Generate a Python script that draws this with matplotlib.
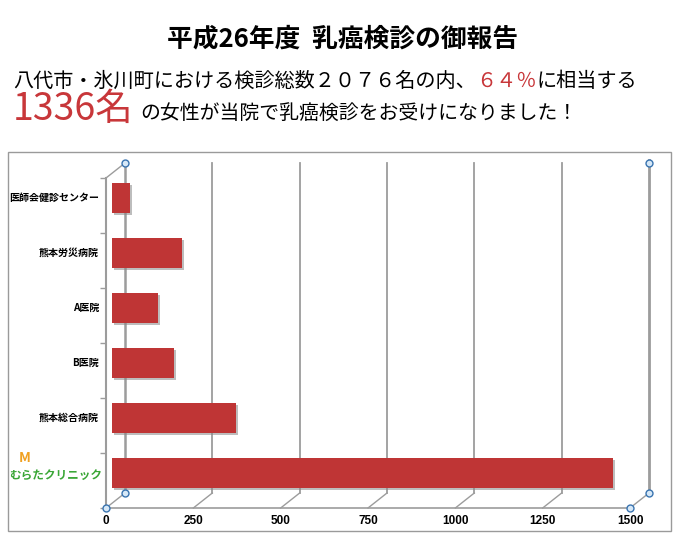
import numpy as np
import matplotlib.pyplot as plt
import matplotlib.transforms as mtransforms
from matplotlib.patches import Rectangle

plt.rcParams['font.family'] = ['Noto Sans CJK JP', 'DejaVu Sans']

categories = ['医師会健診センター', '熊本労災病院', 'A医院', 'B医院', '熊本総合病院', 'むらたクリニック']
values = [52, 200, 132, 177, 355, 1435]
xticks = [0, 250, 500, 750, 1000, 1250, 1500]

title = '平成26年度  乳癌検診の御報告'
line2 = [('八代市・氷川町における検診総数２０７６名の内、', 'black'), ('６４％', '#c8373a'), ('に相当する', 'black')]
line3 = [('1336名', '#c8373a', 27), ('の女性が当院で乳癌検診をお受けになりました！', 'black', 14.3)]

W, H = 680, 540
fig = plt.figure(figsize=(W / 100, H / 100), dpi=100)

def px(x, y):
    return x / W, 1 - y / H

# chart frame
fig.patches.append(Rectangle(px(8, 531), 663 / W, 379 / H, transform=fig.transFigure,
                             fill=False, edgecolor='#9a9a9a', lw=1))

# back plane axes
ax = fig.add_axes([125 / W, (H - 493) / H, 524 / W, 330 / H])
ax.set_xlim(0, 1500)
ax.set_ylim(5.5, -0.5)
ax.axis('off')

def shift(dx, dy):
    return ax.transData + mtransforms.ScaledTranslation(dx / 100, dy / 100, fig.dpi_scale_trans)

front = shift(-19, -15)
bar_t = shift(-13, -7.5)
shadow_t = shift(-11, -9.5)

grid_c = '#9c9c9c'
# back grid lines
for t in xticks[1:-1]:
    ax.plot([t, t], [-0.5, 5.5], color=grid_c, lw=1.3, clip_on=False, zorder=1)
ax.plot([0, 0], [-0.5, 5.5], color=grid_c, lw=1.8, clip_on=False, zorder=1)
ax.plot([1500, 1500], [-0.55, 5.5], color=grid_c, lw=2, clip_on=False, zorder=1)

# diagonals from back to front
disp = ax.transData
inv = ax.transData.inverted()
def to_front(x, y):
    p = disp.transform((x, y)) + np.array([-19, -15])
    return inv.transform(p)

for t in xticks:
    fx, fy = to_front(t, 5.5)
    ax.plot([t, fx], [5.5, fy], color=grid_c, lw=1, clip_on=False, zorder=1)
fx, fy = to_front(0, -0.5)
ax.plot([0, fx], [-0.5, fy], color=grid_c, lw=1, clip_on=False, zorder=1)

# front axis lines
ax.plot([0, 1500], [5.5, 5.5], color=grid_c, lw=1.2, transform=front, clip_on=False, zorder=1)
ax.plot([0, 0], [-0.5, 5.5], color=grid_c, lw=1.5, transform=front, clip_on=False, zorder=1)
bounds = np.arange(-0.5, 6.0, 1.0)
ax.plot(np.zeros(len(bounds)), bounds, ls='none', marker=0, ms=4, color=grid_c,
        transform=front, clip_on=False)

# bars
y = np.arange(len(categories))
ax.barh(y, values, height=0.53, color='#888888', alpha=0.55, transform=shadow_t, zorder=2, clip_on=False)
ax.barh(y, values, height=0.53, color='#bf3535', transform=bar_t, zorder=3, clip_on=False)

# corner markers
mk = dict(ls='none', marker='o', ms=5, mfc='#d6e8f7', mec='#3a74b0', mew=1, clip_on=False, zorder=5)
ax.plot([0, 1500, 0, 1500], [-0.5, -0.5, 5.5, 5.5], **mk)
ax.plot([0, 1500], [5.5, 5.5], transform=front, **mk)

# x tick labels
for t in xticks:
    ax.text(t, 5.5, str(t), transform=shift(-19, -28), ha='center', va='center',
            fontsize=8.5, fontweight='bold', family='Liberation Sans')

# category labels
for i, name in enumerate(categories[:-1]):
    ax.text(0, i, name, transform=shift(-26, -7.5), ha='right', va='center',
            fontsize=7.2, fontweight='bold')
fig.text(*px(56, 475), categories[-1], ha='center', va='center', fontsize=8.4,
         fontweight='bold', color='#3aa636')
fig.text(*px(25, 458), 'M', ha='center', va='center', fontsize=10,
         fontweight='bold', color='#f0a020')

# header text
fig.text(*px(343, 39), title, ha='center', va='center', fontsize=18.5, fontweight='bold')

renderer = fig.canvas.get_renderer()
x0 = 13
for s, c in line2:
    t = fig.text(*px(x0, 87), s, color=c, fontsize=14.5, va='baseline')
    x0 = t.get_window_extent(renderer).x1
x0 = 13
for s, c, fs in line3:
    t = fig.text(*px(x0, 120), s, color=c, fontsize=fs, va='baseline')
    x0 = t.get_window_extent(renderer).x1 + 6

fig.savefig('out.png', dpi=100)
